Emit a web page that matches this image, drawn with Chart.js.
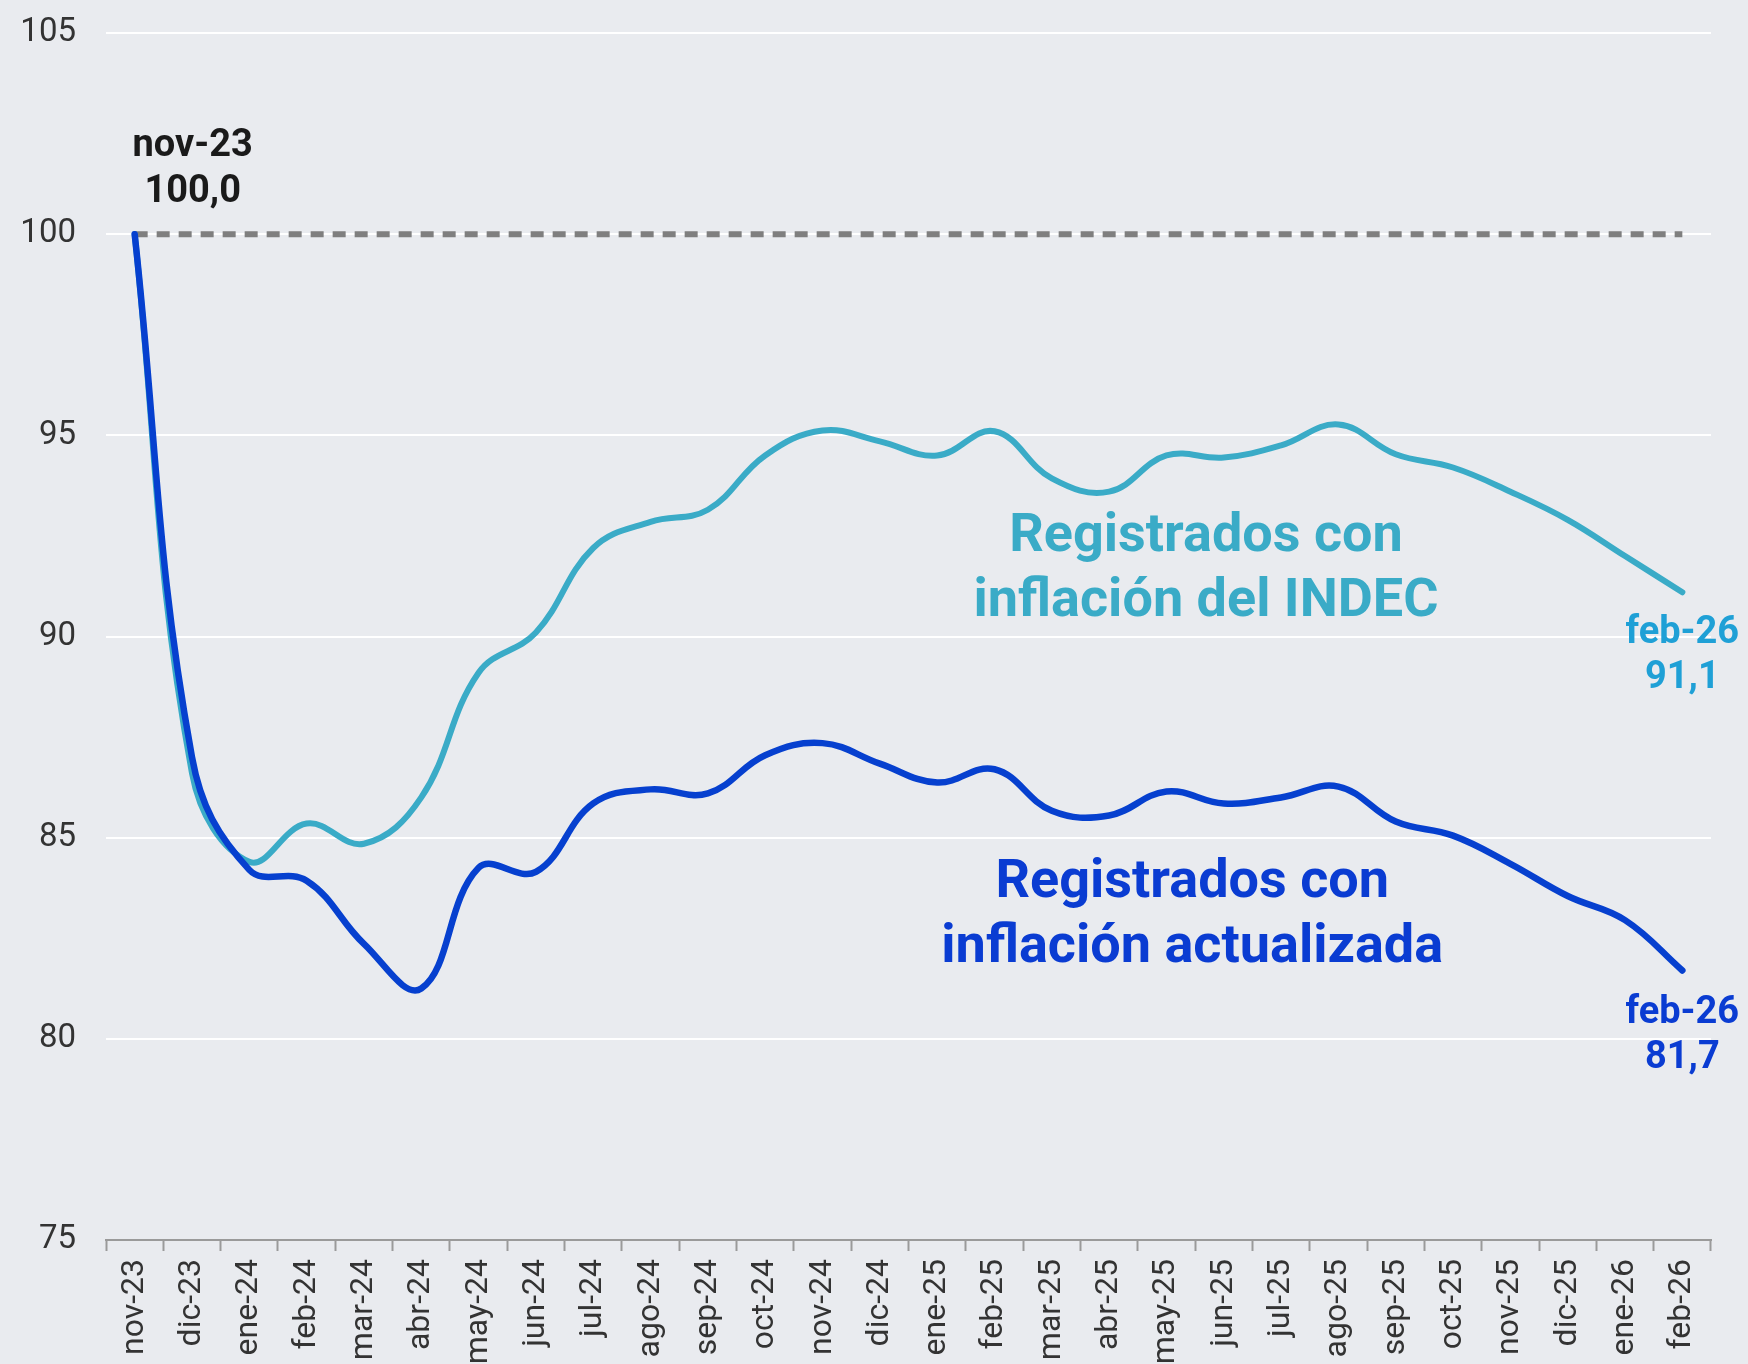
<!DOCTYPE html>
<html>
<head>
<meta charset="utf-8">
<script src="https://cdn.jsdelivr.net/npm/chart.js@4.4.1/dist/chart.umd.min.js"></script>
<style>
  html, body { margin: 0; padding: 0; background: #e9ebef; overflow: hidden; }
  canvas { display: block; }
</style>
</head>
<body>
<canvas id="c" width="1748" height="1364"></canvas>
<script>
const labels = ['nov-23','dic-23','ene-24','feb-24','mar-24','abr-24','may-24','jun-24','jul-24','ago-24','sep-24','oct-24','nov-24','dic-24','ene-25','feb-25','mar-25','abr-25','may-25','jun-25','jul-25','ago-25','sep-25','oct-25','nov-25','dic-25','ene-26','feb-26'];
const indec = [100, 86.6, 84.4, 85.35, 84.85, 86.0, 89.1, 90.1, 92.2, 92.85, 93.15, 94.5, 95.12, 94.85, 94.5, 95.1, 93.93, 93.6, 94.5, 94.45, 94.75, 95.27, 94.53, 94.2, 93.6, 92.9, 92.0, 91.1];
const actualizada = [100, 87.0, 84.2, 83.93, 82.36, 81.25, 84.25, 84.15, 85.85, 86.2, 86.1, 87.05, 87.35, 86.84, 86.37, 86.7, 85.67, 85.55, 86.15, 85.85, 86.0, 86.27, 85.4, 85.05, 84.35, 83.55, 82.95, 81.7];
const baseLine = labels.map(() => 100);
const yTicks = [75, 80, 85, 90, 95, 100, 105];

const COL_TEAL = '#3aabc7';
const COL_TEAL_LBL = '#1fa0d6';
const COL_BLUE = '#0640cf';
const COL_BLUE_LBL = '#0a3cd2';

const bgPlugin = {
  id: 'bg',
  beforeDraw(chart) {
    const ctx = chart.ctx;
    ctx.save();
    ctx.fillStyle = '#e9ebef';
    ctx.fillRect(0, 0, chart.width, chart.height);
    ctx.restore();
  }
};

const textPlugin = {
  id: 'texts',
  afterDatasetsDraw(chart) {
    const ctx = chart.ctx;
    const xs = chart.scales.x, ys = chart.scales.y;
    const last = labels.length - 1;
    ctx.save();
    ctx.textAlign = 'center';
    ctx.textBaseline = 'middle';
    ctx.font = 'bold 38px Roboto';
    ctx.fillStyle = '#1a1a1a';
    const x0 = xs.getPixelForValue(0) + 58;
    const y0 = ys.getPixelForValue(actualizada[0]);
    ctx.fillText(labels[0], x0, y0 - 88);
    ctx.fillText(actualizada[0].toFixed(1).replace('.', ','), x0, y0 - 42);
    const xe = xs.getPixelForValue(last);
    const yt = ys.getPixelForValue(indec[last]);
    ctx.fillStyle = COL_TEAL_LBL;
    ctx.fillText(labels[last], xe, yt + 41);
    ctx.fillText(indec[last].toFixed(1).replace('.', ','), xe, yt + 86);
    const yb = ys.getPixelForValue(actualizada[last]);
    ctx.fillStyle = COL_BLUE_LBL;
    ctx.fillText(labels[last], xe, yb + 43);
    ctx.fillText(actualizada[last].toFixed(1).replace('.', ','), xe, yb + 88);
    ctx.font = 'bold 54px Roboto';
    ctx.fillStyle = COL_TEAL;
    const xt = xs.getPixelForValue(18.69);
    ctx.fillText('Registrados con', xt, ys.getPixelForValue(92.45));
    ctx.fillText('inflación del INDEC', xt, ys.getPixelForValue(90.85));
    ctx.fillStyle = COL_BLUE_LBL;
    const xb = xs.getPixelForValue(18.45);
    ctx.fillText('Registrados con', xb, ys.getPixelForValue(83.85));
    ctx.fillText('inflación actualizada', xb, ys.getPixelForValue(82.24));
    ctx.restore();
  }
};

new Chart(document.getElementById('c'), {
  type: 'line',
  data: {
    labels: labels,
    datasets: [
      {
        label: 'Registrados con inflación actualizada',
        data: actualizada,
        borderColor: COL_BLUE,
        borderWidth: 6.5,
        tension: 0.4,
        pointRadius: 0,
        borderCapStyle: 'round',
        fill: false
      },
      {
        label: 'Registrados con inflación del INDEC',
        data: indec,
        borderColor: COL_TEAL,
        borderWidth: 6,
        tension: 0.4,
        pointRadius: 0,
        borderCapStyle: 'round',
        fill: false
      },
      {
        label: 'Base',
        data: baseLine,
        borderColor: '#7f7f7f',
        borderWidth: 6,
        borderDash: [13, 9],
        tension: 0,
        pointRadius: 0,
        fill: false
      }
    ]
  },
  options: {
    responsive: false,
    devicePixelRatio: 1,
    animation: false,
    layout: { padding: { top: 33, right: 37, bottom: 0, left: 0 } },
    plugins: { legend: { display: false }, tooltip: { enabled: false } },
    scales: {
      x: {
        type: 'category',
        offset: true,
        grid: {
          offset: true,
          drawOnChartArea: false,
          drawTicks: true,
          tickLength: 11,
          tickColor: '#9a9a9a',
          tickWidth: 2
        },
        border: { display: true, color: '#9a9a9a', width: 2 },
        ticks: {
          autoSkip: false,
          minRotation: 90,
          maxRotation: 90,
          padding: 8,
          color: '#333333',
          font: { family: 'Roboto', size: 32 }
        },
        afterFit(scale) { scale.height = 124; scale.paddingLeft = 0; scale.paddingRight = 0; }
      },
      y: {
        min: 75,
        max: 105,
        afterBuildTicks(scale) { scale.ticks = yTicks.map(v => ({ value: v })); },
        grid: {
          color: '#ffffff',
          lineWidth: 2,
          drawTicks: false
        },
        border: { display: false },
        ticks: {
          padding: 30,
          color: '#333333',
          font: { family: 'Roboto', size: 33 }
        },
        afterFit(scale) { scale.width = 106; scale.paddingTop = 0; scale.paddingBottom = 0; }
      }
    }
  },
  plugins: [bgPlugin, textPlugin]
});
</script>
</body>
</html>
